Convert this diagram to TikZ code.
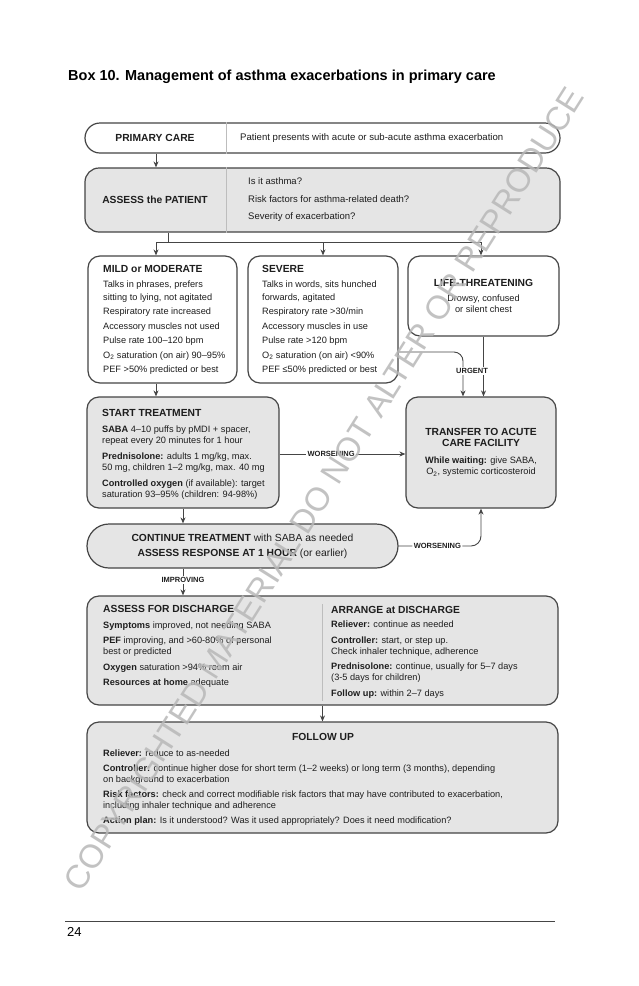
\documentclass[tikz,border=0pt]{standalone}
\usepackage{fontspec}
\setmainfont{Liberation Sans}
\usetikzlibrary{arrows.meta,calc}
\definecolor{linegray}{HTML}{454545}
\definecolor{boxfill}{HTML}{E5E5E5}
\definecolor{divgray}{HTML}{BDBDBD}
\definecolor{inkgray}{HTML}{1E1E1E}
\newcommand{\bodyfont}{\fontsize{9.2}{11}\selectfont}
\newcommand{\hd}[1]{{\fontsize{10.3}{11}\selectfont\bfseries #1}}
\tikzset{
	box/.style={draw=linegray, line width=1.2pt, rounded corners=12pt, inner sep=0pt,
			text=inkgray, font=\bodyfont},
	shaded/.style={box, fill=boxfill},
	txt/.style={inner sep=0pt, align=left, text=inkgray, font=\bodyfont},
	hdr/.style={inner sep=0pt, text=inkgray, font=\fontsize{10.3}{12}\selectfont\bfseries},
	conn/.style={draw=linegray, line width=0.9pt},
	arr/.style={conn, -{Stealth[length=6pt,width=5pt]}},
	lbl/.style={fill=white, inner sep=1.5pt, text=inkgray, font=\fontsize{7.5}{8}\selectfont\bfseries},
	divline/.style={draw=divgray, line width=0.6pt}
}

\begin{document}
\begin{tikzpicture}[x=1pt,y=-1pt]
	\useasboundingbox[fill=white] (0,0) rectangle (638,986);

	\node[anchor=west, inner sep=0pt, font=\fontsize{14.5}{16}\selectfont\bfseries] (title) at (68,77) {Box 10. Management of asthma exacerbations in primary care};

	% columns used by the arrows
	\coordinate (colA) at (156,0);
	\coordinate (colB) at (183,0);
	\coordinate (divA) at (226,0);
	\coordinate (split) at (168,242);

	% primary care, assessment
	\node[box, rounded corners=15pt, minimum width=475pt, minimum height=30pt] (primary) at (322.5,138) {};
	\draw[divline] (divA |- primary.north) -- (divA |- primary.south);
	\node[hdr] (primaryhd) at (155,138) {PRIMARY CARE};
	\node[txt, anchor=west, font=\fontsize{9.6}{11}\selectfont] (primarytxt) at (240,138) {Patient presents with acute or sub-acute asthma exacerbation};

	\node[shaded, rounded corners=14pt, minimum width=475pt, minimum height=64pt] (assess) at (322.5,200) {};
	\draw[divline] (divA |- assess.north) -- (divA |- assess.south);
	\node[hdr] (assesshd) at (155,200) {ASSESS the PATIENT};
	\node[txt, anchor=west, font=\fontsize{9.5}{17.5}\selectfont] (assesstxt) at (248,200) {Is it asthma?\\ Risk factors for asthma-related death?\\ Severity of exacerbation?};

	% severity
	\node[box, minimum width=149pt, minimum height=127pt] (mild) at (162.5,319.5) {};
	\node[txt, anchor=north west, font=\fontsize{9.2}{12.5}\selectfont] (mildtxt) at (103,265.4) {\hd{MILD or MODERATE}\\[2.5pt]
		Talks in phrases, prefers\\
		sitting to lying, not agitated\\[2pt]
		Respiratory rate increased\\[2pt]
		Accessory muscles not used\\[2pt]
		Pulse rate 100--120 bpm\\[2pt]
		O\textsubscript{2} saturation (on air) 90--95\%\\[2pt]
		PEF >50\% predicted or best};

	\node[box, minimum width=150pt, minimum height=127pt] (severe) at (323,319.5) {};
	\node[txt, anchor=north west, font=\fontsize{9.2}{12.5}\selectfont] (severetxt) at (262,265.4) {\hd{SEVERE}\\[2.5pt]
		Talks in words, sits hunched\\
		forwards, agitated\\[2pt]
		Respiratory rate >30/min\\[2pt]
		Accessory muscles in use\\[2pt]
		Pulse rate >120 bpm\\[2pt]
		O\textsubscript{2} saturation (on air) <90\%\\[2pt]
		PEF ≤50\% predicted or best};

	\node[box, minimum width=151pt, minimum height=80pt, align=center] (lt) at (483.5,296) {\hd{LIFE-THREATENING}\\[3.6pt]
		Drowsy, confused\\ or silent chest};

	% treatment
	\node[shaded, minimum width=192pt, minimum height=111pt] (start) at (183,452.5) {};
	\node[txt, anchor=north west] (starttxt) at (102,409.4) {\hd{START TREATMENT}\\[5pt]
		\textbf{SABA} 4--10 puffs by pMDI + spacer,\\
		repeat every 20 minutes for 1 hour\\[5pt]
		\textbf{Prednisolone:} adults 1 mg/kg, max.\\
		50 mg, children 1--2 mg/kg, max. 40 mg\\[5pt]
		\textbf{Controlled oxygen} (if available): target\\
		saturation 93--95\% (children: 94-98\%)};

	\node[shaded, minimum width=150pt, minimum height=111pt, align=center] (transfer) at (481,452.5) {\hd{TRANSFER TO ACUTE}\\
		\hd{CARE FACILITY}\\[6pt]
		\textbf{While waiting:} give SABA,\\
		O\textsubscript{2}, systemic corticosteroid};

	\node[shaded, rounded corners=22pt, minimum width=311pt, minimum height=44pt, align=center,
		font=\fontsize{10.3}{15}\selectfont] (cont) at (242.5,546) {\textbf{CONTINUE TREATMENT} with SABA as needed\\
		\textbf{ASSESS RESPONSE AT 1 HOUR} (or earlier)};

	% discharge
	\node[shaded, minimum width=471pt, minimum height=109pt] (discharge) at (322.5,650.5) {};
	\draw[divline] ([yshift=-9pt]discharge.north) -- ([yshift=5pt]discharge.south);
	\node[txt, anchor=north west] (assessdis) at (103,605.4) {\hd{ASSESS FOR DISCHARGE}\\[4.5pt]
		\textbf{Symptoms} improved, not needing SABA\\[4.5pt]
		\textbf{PEF} improving, and >60-80\% of personal\\
		best or predicted\\[4.5pt]
		\textbf{Oxygen} saturation >94\% room air\\[4.5pt]
		\textbf{Resources at home} adequate};
	\node[txt, anchor=north west] (arrangedis) at (331,606.4) {\hd{ARRANGE at DISCHARGE}\\[3pt]
		\textbf{Reliever:} continue as needed\\[4.5pt]
		\textbf{Controller:} start, or step up.\\
		Check inhaler technique, adherence\\[4.5pt]
		\textbf{Prednisolone:} continue, usually for 5--7 days\\
		(3-5 days for children)\\[4.5pt]
		\textbf{Follow up:} within 2--7 days};

	% follow up
	\node[shaded, minimum width=471pt, minimum height=111pt] (followup) at (322.5,777.5) {};
	\node[hdr] (followhd) at (323,737) {FOLLOW UP};
	\node[txt, anchor=north west] (followtxt) at (103,749.8) {\textbf{Reliever:} reduce to as-needed\\[4pt]
		\textbf{Controller:} continue higher dose for short term (1--2 weeks) or long term (3 months), depending\\
		on background to exacerbation\\[4pt]
		\textbf{Risk factors:} check and correct modifiable risk factors that may have contributed to exacerbation,\\
		including inhaler technique and adherence\\[4pt]
		\textbf{Action plan:} Is it understood? Was it used appropriately? Does it need modification?};

	% arrows
	\draw[arr] (colA |- primary.south) -- (colA |- assess.north);
	\draw[conn] (split |- assess.south) -- (split);
	\draw[arr] (split) -| ([xshift=-6.5pt]mild.north);
	\draw[arr] (split) -| (severe.north);
	\draw[arr] (split) -| ([xshift=-2.5pt]lt.north);
	\draw[arr] (colA |- mild.south) -- (colA |- start.north);
	\draw[arr, rounded corners=9pt] ([yshift=-32.5pt]severe.east) -| ([xshift=-18pt]transfer.north);
	\draw[arr] (lt.south) -- (lt.south |- transfer.north);
	\node[lbl] (urgent) at (472,371) {URGENT};
	\draw[arr] ([yshift=-1.5pt]start.east) -- ([yshift=-1.5pt]transfer.west) node[lbl, pos=0.41] (worsenA) {WORSENING};
	\draw[arr] (colB |- start.south) -- (colB |- cont.north);
	\draw[arr, rounded corners=10pt] (cont.east) -- node[lbl, pos=0.47] (worsenB) {WORSENING} (cont.east -| transfer.south) -- (transfer.south);
	\draw[arr] (colB |- cont.south) -- (colB |- discharge.north) node[lbl, pos=0.43] (improving) {IMPROVING};
	\draw[arr] (discharge.south) -- (followup.north);

	% page foot
	\draw[linegray, line width=0.8pt] (65,921) -- (555,921);
	\node[anchor=west, inner sep=0pt, font=\fontsize{13}{14}\selectfont] (page) at (67,932) {24};

	% watermark
	\node[rotate=57.7, inner sep=0pt, text=black!28, opacity=0.85, font=\fontsize{33}{34}\selectfont] (stamp) at (324,489) {COPYRIGHTED MATERIAL DO NOT ALTER OR REPRODUCE};
\end{tikzpicture}
\end{document}
